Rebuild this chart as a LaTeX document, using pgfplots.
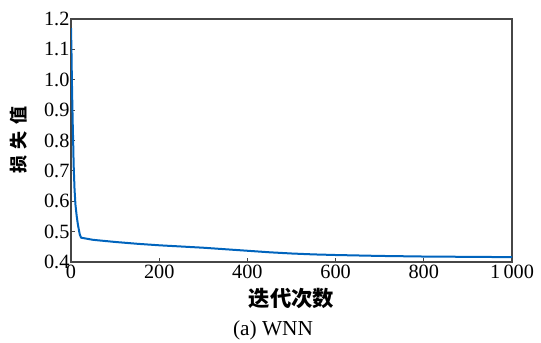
\documentclass[border=0pt]{standalone}
\usepackage{fontspec}
\setmainfont{Liberation Serif}
\newfontfamily\cjk{Noto Sans CJK SC}
\usepackage{pgfplots}
\pgfplotsset{compat=1.18}
\definecolor{lossblue}{RGB}{0,100,189}
\definecolor{axgray}{RGB}{70,70,70}
\begin{document}
\begin{tikzpicture}[x=1pt,y=1pt]
\useasboundingbox (-53.25,-60) rectangle (352.5,196.5);
\begin{axis}[
  at={(0,0)}, anchor=south west,
  scale only axis,
  width=330.75pt, height=182.25pt,
  xmin=0, xmax=1000, ymin=0.4, ymax=1.2,
  axis line style={axgray, line width=0.8pt},
  tick align=inside,
  xtick pos=bottom, ytick pos=left,
  major tick length=3pt,
  tick style={axgray, line width=0.6pt},
  xtick={0,200,400,600,800,1000},
  xticklabels={0,200,400,600,800,1\,000},
  ytick={0.4,0.5,0.6,0.7,0.8,0.9,1.0,1.1,1.2},
  y tick label style={/pgf/number format/fixed, /pgf/number format/fixed zerofill, /pgf/number format/precision=1},
  /pgf/number format/assume math mode=true,
  ticklabel style={font=\fontsize{15.2}{16}\selectfont},
  xticklabel style={inner sep=1pt, yshift=-1pt},
  yticklabel style={inner sep=1pt},
  xlabel={\cjk\bfseries 迭代次数},
  ylabel={\cjk\bfseries 损\hspace{5pt}失\hspace{5pt}值},
  xlabel style={font=\fontsize{16}{18}\selectfont, at={(axis description cs:0.5,0)}, anchor=center, yshift=-27pt},
  ylabel style={font=\fontsize{13.5}{15}\selectfont, at={(axis description cs:-0.118,0.502)}, anchor=center},
  clip=true,
]
\addplot[lossblue, line width=1.5pt, line join=round] coordinates {
(0,1.17) (1,1.10) (2,1.00) (3,0.92) (4,0.85) (5,0.79) (6,0.72) (8,0.64) (10,0.59) (13,0.55) (16,0.52) (20,0.49) (23,0.48)
(50,0.473) (100,0.466) (150,0.460) (200,0.455) (250,0.451) (300,0.447) (350,0.442) (400,0.437) (450,0.432) (500,0.428) (550,0.425) (600,0.423) (700,0.420) (800,0.418) (900,0.417) (1000,0.416)
};
\end{axis}
\node[font=\fontsize{16}{18}\selectfont, anchor=center] at (151.5,-51) {(a) WNN};
\end{tikzpicture}
\end{document}
